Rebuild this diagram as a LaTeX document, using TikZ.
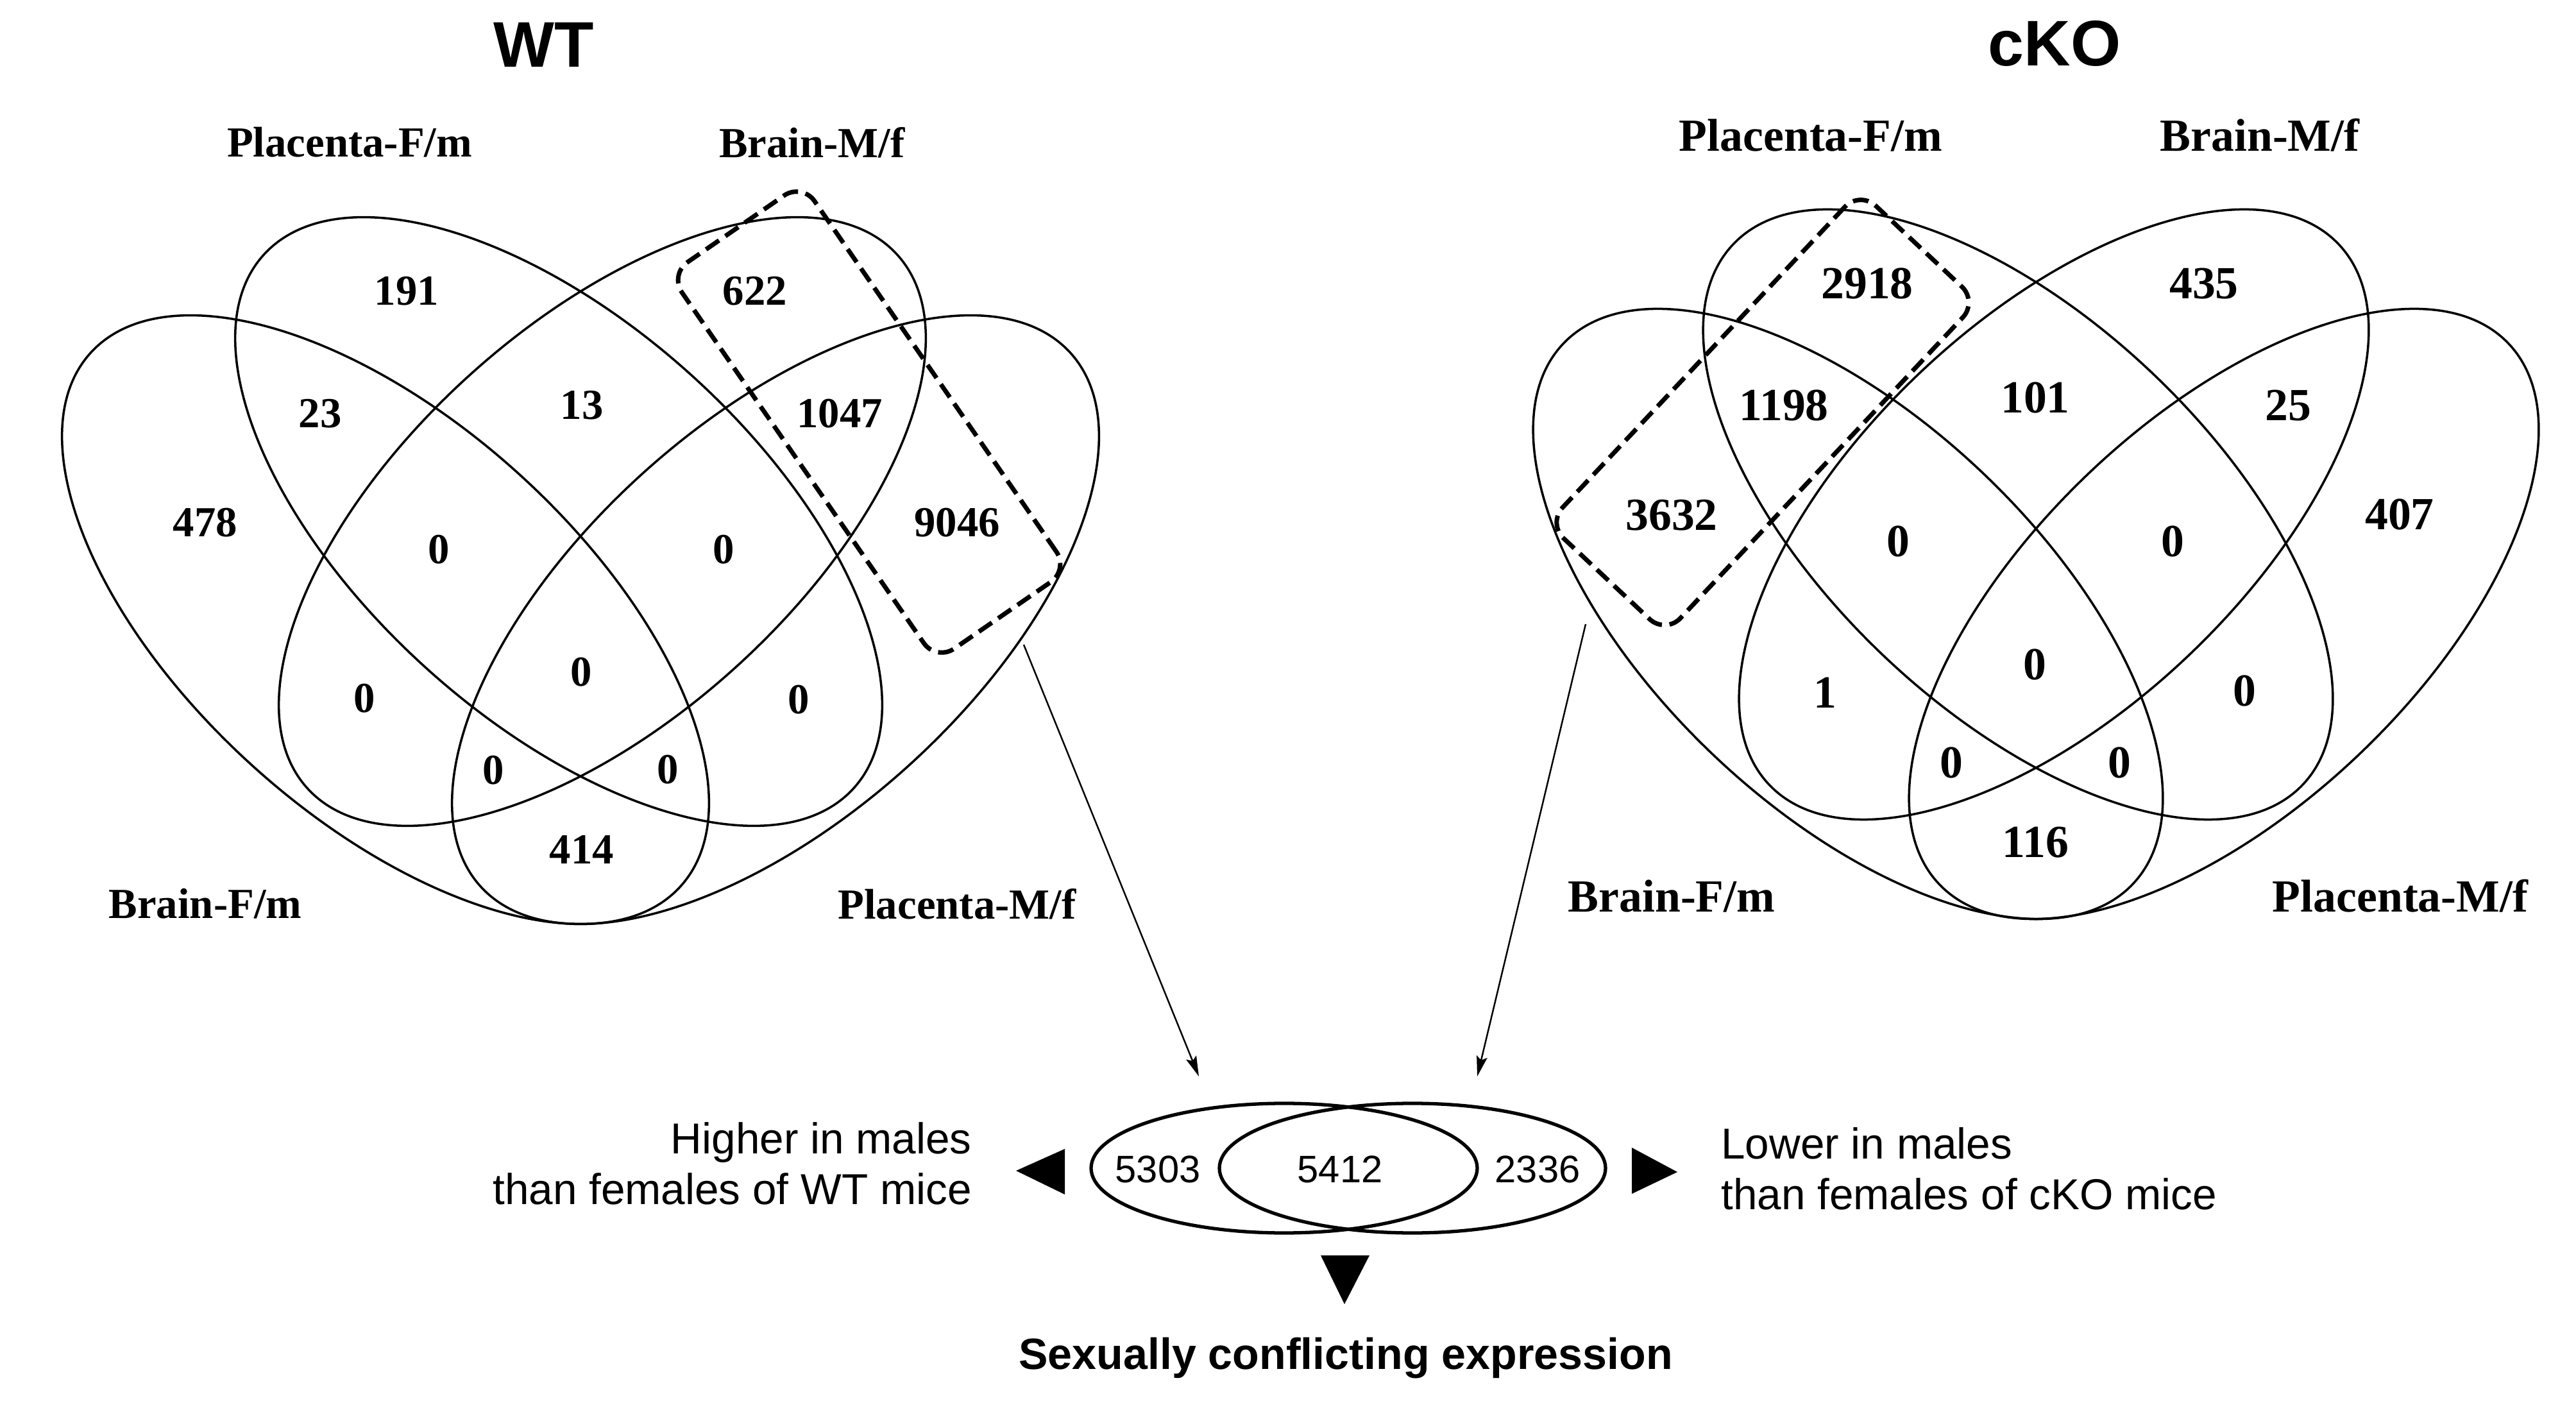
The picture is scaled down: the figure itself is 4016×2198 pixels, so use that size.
\documentclass[tikz,border=0pt]{standalone}
\usepackage{fontspec}
\setmainfont{Liberation Serif}
\setsansfont{Liberation Sans}
\usepackage{tikz}
\usetikzlibrary{positioning, arrows.meta, calc}

\begin{document}
\begin{tikzpicture}[x=0.05mm, y=-0.05mm,
	vline/.style={line width=0.5pt},
	selbox/.style={draw, line width=1pt, dash pattern=on 3.5pt off 1.7pt, rounded corners=1.7mm, inner sep=0pt},
	wtnum/.style={font=\bfseries\fontsize{9.5}{11}\selectfont},
	konum/.style={font=\bfseries\fontsize{10.2}{12}\selectfont},
	headline/.style={font=\sffamily\bfseries\fontsize{14.3}{16}\selectfont},
	sidetext/.style={font=\sffamily\fontsize{9.6}{11.24}\selectfont, inner sep=0pt},
	setnum/.style={font=\sffamily\fontsize{8.5}{10}\selectfont},
	link/.style={line width=0.35pt, -{Stealth[length=4.5pt, width=2.4pt, inset=0.8pt]}}]
	\useasboundingbox (0,0) rectangle (4016,2198);

	\node[headline] (wt) at (848,70) {WT};
	\node[headline] (cko) at (3203,68) {cKO};

	\foreach \cx/\cy/\tilt in {601/966/-42.1, 871/813/-42.1, 939/813/42.1, 1209/966/42.1}
		\draw[vline, rotate around={\tilt:(\cx,\cy)}] (\cx,\cy) ellipse [x radius=620, y radius=308];
	\foreach \cx/\cy/\tilt in {2881/957/-43.5, 3146/802/-43.5, 3202/802/43.5, 3467/957/43.5}
		\draw[vline, rotate around={\tilt:(\cx,\cy)}] (\cx,\cy) ellipse [x radius=612, y radius=304];

	\foreach \v/\x/\y [count=\i] in {191/634/454, 622/1177/454, 23/499/645, 13/907/632, 1047/1309/645, 478/320/815, 0/684/857, 0/1128/857, 9046/1492/815, 0/568/1089, 0/906/1048, 0/1245/1091, 0/769/1201, 0/1041/1200, 414/907/1324}
		\node[wtnum] (wt\i) at (\x,\y) {\v};
	\node[wtnum] (wtpf) at (545,222) {Placenta-F/m};
	\node[wtnum] (wtbm) at (1266,222) {Brain-M/f};
	\node[wtnum] (wtbf) at (320,1409) {Brain-F/m};
	\node[wtnum] (wtpm) at (1492,1409) {Placenta-M/f};

	\foreach \v/\x/\y [count=\i] in {2918/2911/442, 435/3436/442, 1198/2781/632, 101/3173/620, 25/3567/632, 3632/2606/803, 0/2959/844, 0/3387/844, 407/3741/802, 1/2845/1080, 0/3172/1036, 0/3499/1077, 0/3042/1189, 0/3304/1189, 116/3173/1313}
		\node[konum] (ko\i) at (\x,\y) {\v};
	\node[konum] (kopf) at (2823,211) {Placenta-F/m};
	\node[konum] (kobm) at (3523,211) {Brain-M/f};
	\node[konum] (kobf) at (2606,1397) {Brain-F/m};
	\node[konum] (kopm) at (3742,1397) {Placenta-M/f};

	\node[selbox, rotate=-55.4, minimum width=36.6mm, minimum height=12.55mm] (wtsel) at (1355,658) {};
	\node[selbox, rotate=46.8, minimum width=35.55mm, minimum height=12.6mm] (kosel) at (2748,643) {};

	\draw[line width=0.75pt] (2002,1821) ellipse [x radius=301, y radius=101];
	\draw[line width=0.75pt] (2202,1821) ellipse [x radius=301, y radius=101];
	\node[setnum] (onlywt) at (1805,1823) {5303};
	\node[setnum] (both) at (2089,1823) {5412};
	\node[setnum] (onlyko) at (2397,1823) {2336};

	\coordinate (wtfrom) at (1596,1005);
	\coordinate (wtto) at (1869,1678);
	\coordinate (kofrom) at (2472,973);
	\coordinate (koto) at (2303,1678);
	\draw[link] (wtfrom) -- (wtto);
	\draw[link] (kofrom) -- (koto);

	\fill (1584,1825) -- (1660,1791) -- (1660,1862) -- cycle;
	\fill (2615,1827) -- (2544,1789) -- (2544,1861) -- cycle;
	\fill (2096,2033) -- (2059,1957) -- (2135,1957) -- cycle;

	\node[sidetext, align=right, anchor=east] (higher) at (1516,1814) {Higher in males\\than females of WT mice};
	\node[sidetext, align=left, anchor=west] (lower) at (2682,1822) {Lower in males\\than females of cKO mice};
	\node[font=\sffamily\bfseries\fontsize{9.7}{11}\selectfont, anchor=base] (conflict) at (2098,2134) {Sexually conflicting expression};
\end{tikzpicture}
\end{document}
